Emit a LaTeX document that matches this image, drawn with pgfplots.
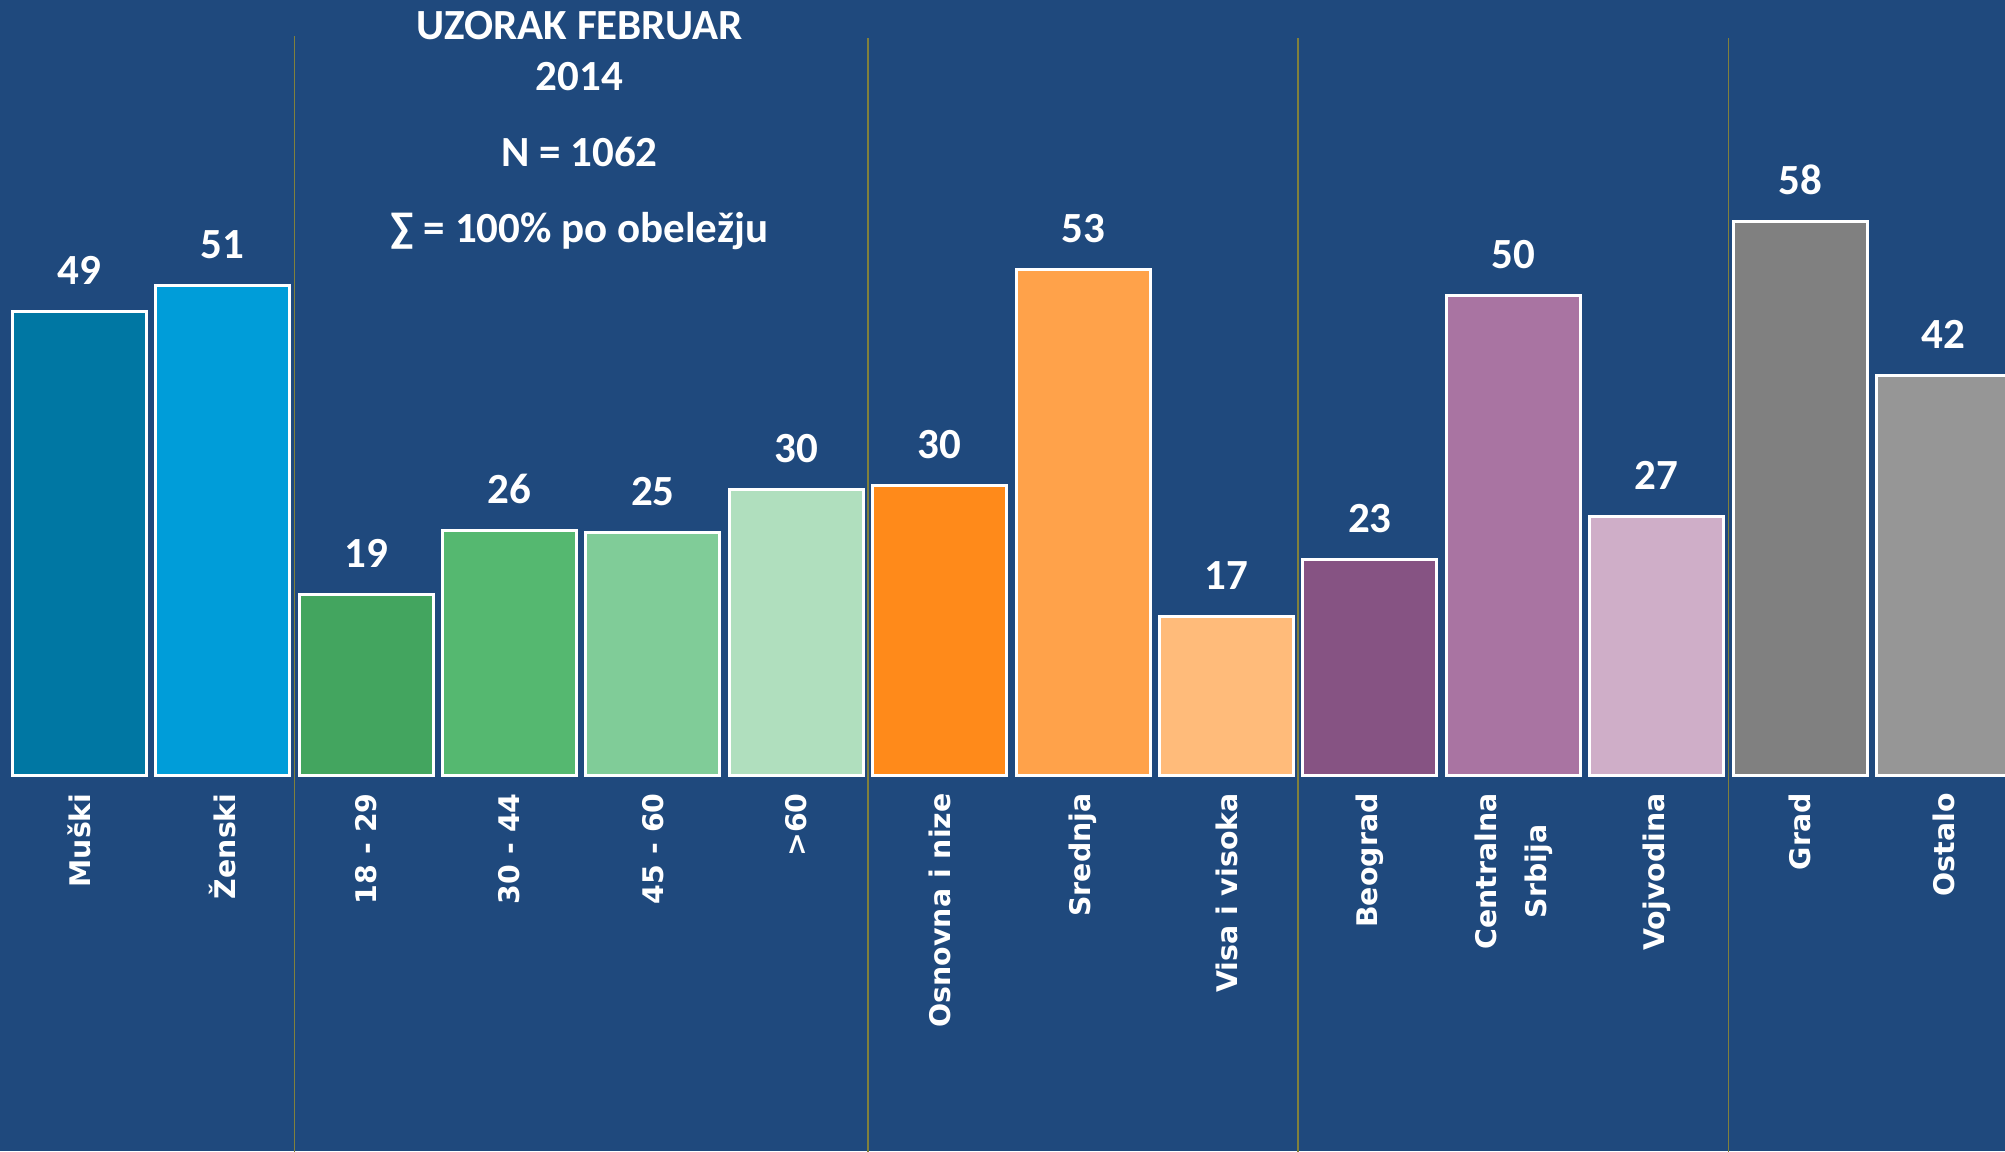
\documentclass[border=0pt]{standalone}
\usepackage{pgfplots}
\pgfplotsset{compat=1.18}
\usepackage{fontspec}
\setmainfont{Carlito}
\newfontfamily\labelfont{DejaVu Sans}

\definecolor{bg}{HTML}{1F497D}
\definecolor{sepline}{RGB}{128,128,60}
\definecolor{c1}{HTML}{0077A3}
\definecolor{c2}{HTML}{009DD9}
\definecolor{c3}{HTML}{43A55F}
\definecolor{c4}{HTML}{55B870}
\definecolor{c5}{HTML}{80CC98}
\definecolor{c6}{HTML}{B0DFBE}
\definecolor{c7}{HTML}{FF8A1A}
\definecolor{c8}{HTML}{FFA24A}
\definecolor{c9}{HTML}{FFBB7A}
\definecolor{c10}{HTML}{865383}
\definecolor{c11}{HTML}{A974A2}
\definecolor{c12}{HTML}{CFAEC8}
\definecolor{c13}{HTML}{808080}
\definecolor{c14}{HTML}{969696}

\begin{document}
\begin{tikzpicture}
\useasboundingbox (0,0) rectangle (1002.5pt,575.5pt);
\clip (0,0) rectangle (1002.5pt,575.5pt);
\fill[bg] (0,0) rectangle (1002.5pt,575.5pt);
\begin{axis}[
  at={(3.8pt,188pt)}, anchor=south west,
  scale only axis, width=1003.8pt, height=285.9pt,
  xmin=-0.5, xmax=13.5, ymin=0, ymax=60,
  ybar, bar shift=0pt, bar width=67pt,
  axis line style={draw=none},
  ytick=\empty,
  xtick={0,...,13},
  xticklabels={Muški,Ženski,18 - 29,30 - 44,45 - 60,>60,Osnovna i nize,Srednja,Visa i visoka,Beograd,{Centralna\\Srbija},Vojvodina,Grad,Ostalo},
  major tick length=0pt,
  xticklabel style={rotate=90, anchor=east, align=center, inner sep=0pt,
    font=\labelfont\bfseries\fontsize{14.2}{25}\selectfont, text=white, xshift=-9pt},
  clip=false,
  nodes near coords={\pgfmathprintnumber[assume math mode=true,fixed,precision=0]{\pgfplotspointmeta}},
  every node near coord/.append style={anchor=base, yshift=13.5pt, inner sep=0pt,
    font=\bfseries\fontsize{21.5}{25}\selectfont, text=white},
]
\draw[sepline, line width=0.75pt] (axis cs:1.5,-45) -- (axis cs:1.5,77.5);
\draw[sepline, line width=0.75pt] (axis cs:5.5,-45) -- (axis cs:5.5,77.3);
\draw[sepline, line width=0.75pt] (axis cs:8.5,-45) -- (axis cs:8.5,77.3);
\draw[sepline, line width=0.75pt] (axis cs:11.5,-45) -- (axis cs:11.5,77.3);
% pol
\addplot[fill=c1, draw=white, line width=1.5pt] coordinates {(0,48.6)};
\addplot[fill=c2, draw=white, line width=1.5pt] coordinates {(1,51.4)};
% starost
\addplot[fill=c3, draw=white, line width=1.5pt] coordinates {(2,18.9)};
\addplot[fill=c4, draw=white, line width=1.5pt] coordinates {(3,25.7)};
\addplot[fill=c5, draw=white, line width=1.5pt] coordinates {(4,25.4)};
\addplot[fill=c6, draw=white, line width=1.5pt] coordinates {(5,30.0)};
% obrazovanje
\addplot[fill=c7, draw=white, line width=1.5pt] coordinates {(6,30.4)};
\addplot[fill=c8, draw=white, line width=1.5pt] coordinates {(7,53.0)};
\addplot[fill=c9, draw=white, line width=1.5pt] coordinates {(8,16.6)};
% region
\addplot[fill=c10, draw=white, line width=1.5pt] coordinates {(9,22.6)};
\addplot[fill=c11, draw=white, line width=1.5pt] coordinates {(10,50.3)};
\addplot[fill=c12, draw=white, line width=1.5pt] coordinates {(11,27.1)};
% tip naselja
\addplot[fill=c13, draw=white, line width=1.5pt] coordinates {(12,58.1)};
\addplot[fill=c14, draw=white, line width=1.5pt] coordinates {(13,41.9)};
\end{axis}
\begin{scope}[every node/.style={anchor=base, text=white, inner sep=0pt,
    font=\bfseries\fontsize{21.5}{25}\selectfont}]
\node at (289.7pt,555.5pt) {UZORAK FEBRUAR};
\node at (289.7pt,530pt) {2014};
\node at (289.7pt,492pt) {N = 1062};
\node at (289.7pt,454pt) {∑ = 100\% po obeležju};
\end{scope}
\end{tikzpicture}
\end{document}
